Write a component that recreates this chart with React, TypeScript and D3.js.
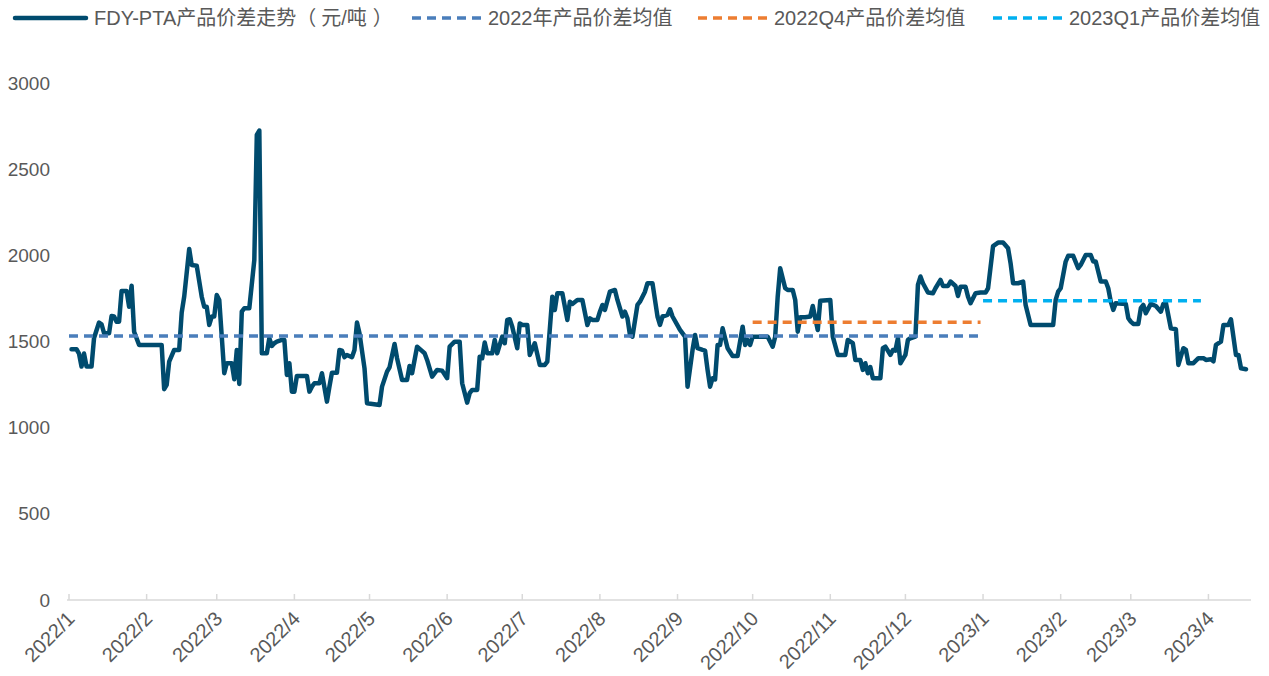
import * as d3 from 'd3'
import React, { useEffect, useRef } from 'react'

// FDY-PTA spread (yuan/ton)
const dates = [
  '2022-01-02', '2022-01-04', '2022-01-05', '2022-01-06', '2022-01-07', '2022-01-08', '2022-01-10', '2022-01-11',
  '2022-01-13', '2022-01-14', '2022-01-15', '2022-01-17', '2022-01-18', '2022-01-19', '2022-01-20', '2022-01-21',
  '2022-01-22', '2022-01-24', '2022-01-25', '2022-01-26', '2022-01-27', '2022-01-29', '2022-02-07', '2022-02-08',
  '2022-02-09', '2022-02-10', '2022-02-12', '2022-02-14', '2022-02-15', '2022-02-16', '2022-02-18', '2022-02-19',
  '2022-02-21', '2022-02-23', '2022-02-24', '2022-02-25', '2022-02-26', '2022-02-27', '2022-02-28', '2022-03-01',
  '2022-03-02', '2022-03-04', '2022-03-05', '2022-03-07', '2022-03-08', '2022-03-09', '2022-03-10', '2022-03-11',
  '2022-03-12', '2022-03-14', '2022-03-16', '2022-03-17', '2022-03-18', '2022-03-19', '2022-03-21', '2022-03-22',
  '2022-03-23', '2022-03-24', '2022-03-25', '2022-03-27', '2022-03-28', '2022-03-29', '2022-03-30', '2022-03-31',
  '2022-04-01', '2022-04-02', '2022-04-06', '2022-04-07', '2022-04-08', '2022-04-09', '2022-04-11', '2022-04-12',
  '2022-04-14', '2022-04-15', '2022-04-16', '2022-04-18', '2022-04-19', '2022-04-20', '2022-04-21', '2022-04-22',
  '2022-04-24', '2022-04-25', '2022-04-26', '2022-04-27', '2022-04-29', '2022-04-30', '2022-05-05', '2022-05-06',
  '2022-05-08', '2022-05-09', '2022-05-11', '2022-05-12', '2022-05-14', '2022-05-16', '2022-05-17', '2022-05-18',
  '2022-05-20', '2022-05-23', '2022-05-24', '2022-05-26', '2022-05-28', '2022-05-30', '2022-06-01', '2022-06-02',
  '2022-06-04', '2022-06-06', '2022-06-07', '2022-06-09', '2022-06-10', '2022-06-11', '2022-06-13', '2022-06-14',
  '2022-06-15', '2022-06-16', '2022-06-17', '2022-06-19', '2022-06-20', '2022-06-21', '2022-06-23', '2022-06-24',
  '2022-06-25', '2022-06-26', '2022-06-27', '2022-06-29', '2022-06-30', '2022-07-01', '2022-07-03', '2022-07-04',
  '2022-07-06', '2022-07-08', '2022-07-10', '2022-07-11', '2022-07-13', '2022-07-14', '2022-07-15', '2022-07-17',
  '2022-07-19', '2022-07-20', '2022-07-21', '2022-07-23', '2022-07-25', '2022-07-27', '2022-07-28', '2022-07-29',
  '2022-07-31', '2022-08-01', '2022-08-02', '2022-08-03', '2022-08-05', '2022-08-07', '2022-08-08', '2022-08-10',
  '2022-08-11', '2022-08-12', '2022-08-13', '2022-08-14', '2022-08-16', '2022-08-17', '2022-08-19', '2022-08-20',
  '2022-08-22', '2022-08-24', '2022-08-25', '2022-08-26', '2022-08-28', '2022-08-29', '2022-08-30', '2022-09-02',
  '2022-09-04', '2022-09-05', '2022-09-07', '2022-09-08', '2022-09-09', '2022-09-11', '2022-09-12', '2022-09-13',
  '2022-09-14', '2022-09-15', '2022-09-16', '2022-09-17', '2022-09-18', '2022-09-19', '2022-09-21', '2022-09-23',
  '2022-09-25', '2022-09-27', '2022-09-28', '2022-09-29', '2022-09-30', '2022-10-01', '2022-10-07', '2022-10-09',
  '2022-10-10', '2022-10-11', '2022-10-12', '2022-10-14', '2022-10-15', '2022-10-17', '2022-10-18', '2022-10-19',
  '2022-10-20', '2022-10-22', '2022-10-24', '2022-10-25', '2022-10-27', '2022-10-28', '2022-11-01', '2022-11-02',
  '2022-11-04', '2022-11-07', '2022-11-08', '2022-11-10', '2022-11-11', '2022-11-13', '2022-11-14', '2022-11-15',
  '2022-11-16', '2022-11-17', '2022-11-18', '2022-11-21', '2022-11-22', '2022-11-23', '2022-11-25', '2022-11-26',
  '2022-11-27', '2022-11-28', '2022-11-29', '2022-12-01', '2022-12-02', '2022-12-03', '2022-12-05', '2022-12-06',
  '2022-12-07', '2022-12-08', '2022-12-10', '2022-12-12', '2022-12-13', '2022-12-15', '2022-12-16', '2022-12-18',
  '2022-12-19', '2022-12-21', '2022-12-22', '2022-12-23', '2022-12-25', '2022-12-26', '2022-12-27', '2022-12-29',
  '2022-12-31', '2023-01-02', '2023-01-03', '2023-01-05', '2023-01-07', '2023-01-09', '2023-01-11', '2023-01-12',
  '2023-01-13', '2023-01-15', '2023-01-17', '2023-01-18', '2023-01-20', '2023-01-29', '2023-01-30', '2023-01-31',
  '2023-02-01', '2023-02-03', '2023-02-04', '2023-02-06', '2023-02-08', '2023-02-09', '2023-02-11', '2023-02-13',
  '2023-02-14', '2023-02-15', '2023-02-17', '2023-02-19', '2023-02-20', '2023-02-21', '2023-02-22', '2023-02-23',
  '2023-02-27', '2023-02-28', '2023-03-01', '2023-03-02', '2023-03-04', '2023-03-05', '2023-03-06', '2023-03-07',
  '2023-03-09', '2023-03-11', '2023-03-13', '2023-03-14', '2023-03-15', '2023-03-17', '2023-03-19', '2023-03-20',
  '2023-03-22', '2023-03-23', '2023-03-24', '2023-03-26', '2023-03-28', '2023-03-30', '2023-03-31', '2023-04-02',
  '2023-04-03', '2023-04-04', '2023-04-06', '2023-04-07', '2023-04-09', '2023-04-10', '2023-04-12', '2023-04-13',
  '2023-04-14', '2023-04-16',
]

const spread = [
  1455, 1455, 1430, 1355, 1430, 1355, 1355, 1520,
  1610, 1600, 1548, 1548, 1648, 1645, 1615, 1615,
  1793, 1793, 1702, 1824, 1557, 1480, 1480, 1223,
  1248, 1383, 1451, 1451, 1668, 1760, 2037, 1944,
  1940, 1760, 1702, 1702, 1596, 1645, 1645, 1770,
  1741, 1316, 1374, 1374, 1281, 1451, 1254, 1673,
  1693, 1693, 1973, 2699, 2724, 1432, 1432, 1519,
  1474, 1490, 1499, 1509, 1509, 1306, 1374, 1209,
  1209, 1300, 1300, 1209, 1238, 1258, 1258, 1316,
  1151, 1238, 1319, 1319, 1451, 1447, 1409, 1422,
  1409, 1451, 1610, 1548, 1345, 1142, 1132, 1238,
  1325, 1350, 1486, 1403, 1277, 1277, 1358, 1316,
  1470, 1432, 1393, 1296, 1335, 1331, 1287, 1470,
  1499, 1499, 1258, 1145, 1200, 1219, 1219, 1412,
  1403, 1494, 1432, 1432, 1509, 1432, 1528, 1490,
  1625, 1629, 1586, 1461, 1605, 1596, 1596, 1422,
  1490, 1364, 1364, 1383, 1760, 1683, 1780, 1780,
  1625, 1731, 1718, 1741, 1741, 1596, 1635, 1625,
  1625, 1673, 1712, 1683, 1789, 1799, 1741, 1645,
  1673, 1635, 1538, 1528, 1712, 1731, 1789, 1838,
  1838, 1645, 1596, 1645, 1654, 1687, 1645, 1567,
  1528, 1238, 1451, 1538, 1461, 1451, 1447, 1335,
  1238, 1287, 1280, 1480, 1480, 1577, 1461, 1416,
  1416, 1586, 1480, 1509, 1480, 1528, 1528, 1470,
  1528, 1760, 1925, 1809, 1799, 1799, 1741, 1557,
  1641, 1641, 1645, 1706, 1567, 1737, 1741, 1528,
  1422, 1422, 1509, 1490, 1393, 1393, 1335, 1374,
  1316, 1351, 1287, 1287, 1461, 1470, 1422, 1451,
  1447, 1519, 1374, 1422, 1509, 1519, 1528, 1828,
  1877, 1838, 1784, 1780, 1809, 1857, 1822, 1822,
  1848, 1822, 1764, 1818, 1818, 1760, 1722, 1780,
  1784, 1784, 1809, 2054, 2074, 2074, 2041, 1954,
  1838, 1838, 1848, 1712, 1596, 1596, 1741, 1789,
  1809, 1964, 1997, 1997, 1925, 1944, 2002, 2002,
  1964, 1964, 1848, 1848, 1809, 1731, 1683, 1722,
  1718, 1635, 1615, 1602, 1602, 1693, 1712, 1664,
  1718, 1706, 1673, 1718, 1725, 1577, 1571, 1364,
  1461, 1451, 1374, 1374, 1403, 1403, 1393, 1397,
  1385, 1480, 1499, 1596, 1596, 1629, 1422, 1422,
  1345, 1339,
]

const seriesName = 'FDY-PTA产品价差走势（元/吨）'
const avgNames = ['2022年产品价差均值', '2022Q4产品价差均值', '2023Q1产品价差均值']
const avgValues = [1532, 1612, 1737]
const avgFrom = ['2022-01-01', '2022-10-01', '2023-01-01']
const avgTo = ['2022-12-30', '2022-12-31', '2023-03-29']
const yTicks = [0, 500, 1000, 1500, 2000, 2500, 3000]

const W = 1269
const H = 676
const lineColor = '#004B6E'
const avgColors = ['#4A7EBB', '#ED7D31', '#00B0F0']
const font = '"Liberation Sans", Arial, "Noto Sans CJK SC", sans-serif'
const textColor = '#595959'

const SpreadChart: React.FC = () => {
    const ref = useRef<SVGSVGElement>(null)

    useEffect(() => {
        if (!ref.current) return
        const parse = d3.timeParse('%Y-%m-%d')
        const svg = d3.select(ref.current)
        svg.selectAll('*').remove()

        const x = d3.scaleTime()
            .domain([new Date(2022, 0, 1), new Date(2023, 3, 18)])
            .range([69, 1251])
        const y = d3.scaleLinear().domain([0, 3000]).range([600, 83])

        // y labels
        svg.append('g')
            .attr('font-family', font)
            .attr('font-size', 19)
            .attr('fill', textColor)
            .attr('text-anchor', 'end')
            .selectAll('text')
            .data(yTicks)
            .enter()
            .append('text')
            .attr('x', 50)
            .attr('y', d => y(d))
            .attr('dy', '0.35em')
            .text(d => d)

        // x axis
        const months = d3.timeMonth.range(new Date(2022, 0, 1), new Date(2023, 3, 2))
        const ax = svg.append('g')
        ax.append('line')
            .attr('x1', 67).attr('x2', 1251)
            .attr('y1', 600).attr('y2', 600)
            .attr('stroke', '#D9D9D9').attr('stroke-width', 1.5)
        ax.selectAll('line.tick')
            .data(months)
            .enter()
            .append('line')
            .attr('class', 'tick')
            .attr('x1', d => x(d)).attr('x2', d => x(d))
            .attr('y1', 600).attr('y2', 594)
            .attr('stroke', '#D9D9D9').attr('stroke-width', 1.5)
        ax.selectAll('text')
            .data(months)
            .enter()
            .append('text')
            .attr('font-family', font)
            .attr('font-size', 20)
            .attr('fill', textColor)
            .attr('text-anchor', 'end')
            .attr('dy', '0.35em')
            .attr('transform', d => `translate(${x(d) + 2},${615}) rotate(-45)`)
            .text(d => d3.timeFormat('%Y/')(d) + (d.getMonth() + 1))

        // main series
        const pts: [Date, number][] = dates.map((d, i) => [parse(d) as Date, spread[i]])
        const line = d3.line<[Date, number]>().x(d => x(d[0])).y(d => y(d[1]))
        svg.append('path')
            .datum(pts)
            .attr('d', line)
            .attr('fill', 'none')
            .attr('stroke', lineColor)
            .attr('stroke-width', 4.5)
            .attr('stroke-linejoin', 'round')
            .attr('stroke-linecap', 'round')

        // average lines
        svg.append('g')
            .selectAll('line')
            .data(avgValues)
            .enter()
            .append('line')
            .attr('x1', (_, i) => x(parse(avgFrom[i]) as Date))
            .attr('x2', (_, i) => x(parse(avgTo[i]) as Date))
            .attr('y1', d => y(d)).attr('y2', d => y(d))
            .attr('stroke', (_, i) => avgColors[i])
            .attr('stroke-width', 3.5)
            .attr('stroke-dasharray', '9 6')

        // legend
        const lg = svg.append('g')
            .attr('font-family', font)
            .attr('font-size', 20)
            .attr('fill', textColor)
        const items = [seriesName, ...avgNames]
        const sx = [15, 412, 698, 993]
        items.forEach((name, i) => {
            lg.append('line')
                .attr('x1', sx[i]).attr('x2', sx[i] + 71)
                .attr('y1', 18).attr('y2', 18)
                .attr('stroke', i === 0 ? lineColor : avgColors[i - 1])
                .attr('stroke-width', i === 0 ? 4.5 : 3.5)
                .attr('stroke-linecap', i === 0 ? 'round' : 'butt')
                .attr('stroke-dasharray', i === 0 ? null : '9 6')
            const t = lg.append('text')
                .attr('x', sx[i] + (i === 0 ? 79 : 76))
                .attr('y', 18)
                .attr('dy', '0.35em')
            if (i === 0) {
                // space out the brackets a little, as in the source
                const parts = name.split(/([（）])/).filter(s => s)
                parts.forEach(p => {
                    const ts = t.append('tspan').text(p)
                    if (p === '）') ts.attr('dx', 6)
                    else if (p !== parts[0] && p !== '（') ts.attr('dx', 5)
                })
            } else {
                t.text(name)
            }
        })
    }, [])

    return <svg ref={ref} width={W} height={H} style={{ display: 'block', background: '#fff' }} />
}

export default function App() {
    return (
        <div style={{ position: 'absolute', left: 0, top: 0 }}>
            <SpreadChart />
        </div>
    )
}
